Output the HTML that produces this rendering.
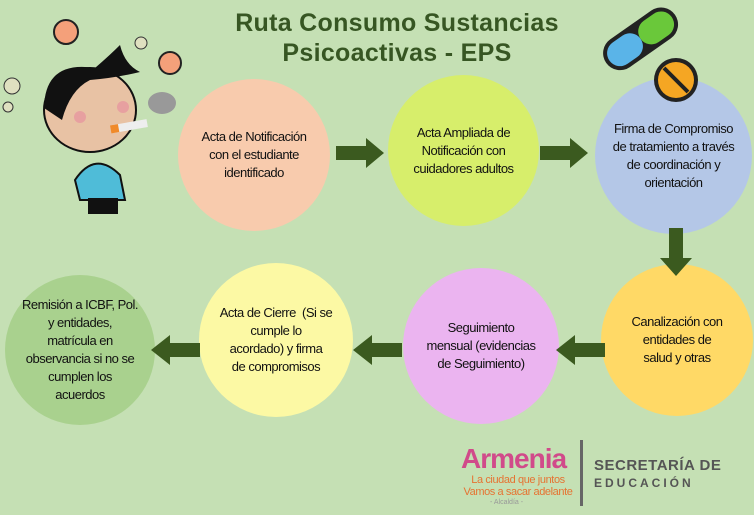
<!DOCTYPE html>
<html><head><meta charset="utf-8"><style>
body{margin:0;width:754px;height:515px;background:#c5e0b4;position:relative;overflow:hidden;font-family:"Liberation Sans",sans-serif}
.t{position:absolute;left:180px;width:434px;text-align:center;color:#375623;font-weight:bold;font-size:25px;line-height:30px;letter-spacing:0.3px}
.c{position:absolute;border-radius:50%;display:flex;align-items:center;justify-content:center;text-align:center;font-size:13px;line-height:18px;letter-spacing:-0.5px;color:#111;box-sizing:border-box;white-space:nowrap}
</style></head><body>
<div class="t" style="top:8px">Ruta Consumo Sustancias<br>Psicoactivas - EPS</div>
<div class="c" style="left:178px;top:79px;width:152px;height:152px;background:#f8cbad">Acta de Notificación<br>con el estudiante<br>identificado</div>
<div class="c" style="left:388px;top:75px;width:151px;height:151px;background:#d7ee6b">Acta Ampliada de<br>Notificación con<br>cuidadores adultos</div>
<div class="c" style="left:595px;top:77px;width:157px;height:157px;background:#b4c7e7">Firma de Compromiso<br>de tratamiento a través<br>de coordinación y<br>orientación</div>
<div class="c" style="left:601px;top:264px;width:152px;height:152px;background:#ffd966">Canalización con<br>entidades de<br>salud y otras</div>
<div class="c" style="left:403px;top:268px;width:156px;height:156px;background:#ebb4f0">Seguimiento<br>mensual (evidencias<br>de Seguimiento)</div>
<div class="c" style="left:199px;top:263px;width:154px;height:154px;background:#fcf9a4">Acta de Cierre &nbsp;(Si se<br>cumple lo<br>acordado) y firma<br>de compromisos</div>
<div class="c" style="left:5px;top:275px;width:150px;height:150px;background:#a9d18e">Remisión a ICBF, Pol.<br>y entidades,<br>matrícula en<br>observancia si no se<br>cumplen los<br>acuerdos</div>
<svg width="754" height="515" style="position:absolute;left:0;top:0">
<g fill="#3b5a1f">
<polygon points="336,146 366,146 366,138 384,153 366,168 366,160 336,160"/>
<polygon points="540,146 570,146 570,138 588,153 570,168 570,160 540,160"/>
<polygon points="669,228 683,228 683,258 692,258 676,276 660,258 669,258"/>
<polygon points="605,343 575,343 575,335 556,350 575,365 575,357 605,357"/>
<polygon points="402,343 372,343 372,335 353,350 372,365 372,357 402,357"/>
<polygon points="200,343 170,343 170,335 151,350 170,365 170,357 200,357"/>
</g>
<g transform="rotate(-35 640 38)">
<rect x="598" y="22" width="84" height="34" rx="17" fill="#222"/>
<rect x="602" y="26" width="38" height="26" rx="13" fill="#5ab4e8"/>
<rect x="640" y="26" width="38" height="26" rx="13" fill="#6ac83a"/>
</g>
<circle cx="676" cy="80" r="22" fill="#222"/><circle cx="676" cy="80" r="18" fill="#f5a623"/>
<line x1="664" y1="68" x2="688" y2="92" stroke="#222" stroke-width="4"/>
<circle cx="66" cy="32" r="12" fill="#f4a07a" stroke="#222" stroke-width="2"/>
<circle cx="170" cy="63" r="11" fill="#f4a07a" stroke="#222" stroke-width="2"/>
<circle cx="141" cy="43" r="6" fill="#dfe0c0" stroke="#333"/>
<circle cx="12" cy="86" r="8" fill="#dfe0c0" stroke="#333"/>
<circle cx="8" cy="107" r="5" fill="#dfe0c0" stroke="#333"/>
<path d="M75 180 Q95 150 120 175 L125 200 L80 200Z" fill="#4fbcd8" stroke="#111" stroke-width="2"/>
<rect x="88" y="198" width="30" height="16" fill="#111"/>
<ellipse cx="90" cy="110" rx="46" ry="42" fill="#e8c2a4" stroke="#111" stroke-width="2"/>
<path d="M44 108 Q45 60 95 68 Q110 55 120 45 Q125 65 140 72 Q115 78 90 80 Q70 90 62 120 Z" fill="#111"/>
<circle cx="80" cy="117" r="6" fill="#e7a0a0"/><circle cx="123" cy="107" r="6" fill="#e7a0a0"/>
<rect x="113" y="125" width="34" height="8" fill="#eee" transform="rotate(-10 113 125)"/>
<rect x="110" y="125" width="8" height="8" fill="#f08a2a" transform="rotate(-10 113 125)"/>
<ellipse cx="162" cy="103" rx="14" ry="11" fill="#999"/>
</svg>
<div style="position:absolute;left:461px;top:443px;font-size:28px;font-weight:bold;color:#d14a8a;letter-spacing:-1px">Armenia</div>
<div style="position:absolute;left:458px;top:474px;width:120px;text-align:center;font-size:11px;line-height:12px;color:#e67332;letter-spacing:-0.4px">La ciudad que juntos<br>Vamos a sacar adelante</div>
<div style="position:absolute;left:490px;top:499px;font-size:7px;color:#999">- Alcaldía -</div>
<div style="position:absolute;left:580px;top:440px;width:3px;height:66px;background:#666"></div>
<div style="position:absolute;left:594px;top:457px;font-size:15px;font-weight:bold;color:#555;letter-spacing:0.5px">SECRETARÍA DE</div>
<div style="position:absolute;left:594px;top:476px;font-size:12px;font-weight:bold;color:#555;letter-spacing:3px">EDUCACIÓN</div>
</body></html>
